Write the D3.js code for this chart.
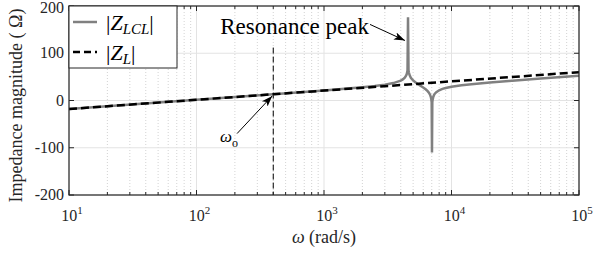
<!DOCTYPE html>
<html>
<head>
<meta charset="utf-8">
<script src="https://cdn.jsdelivr.net/npm/d3@7"></script>
<style>
  body { margin: 0; background: #fff; }
  svg { display: block; }
</style>
</head>
<body>
<svg id="chart" width="611" height="253"></svg>
<script>
// |Z_L| (dB-like, read at each decade)
var wL = [10, 100, 1000, 10000, 100000]
var magL = [-18, 1.5, 21, 40.5, 60]

// |Z_LCL| (dense around peak and notch)
var wLCL = [10, 100, 400, 1000, 2000, 2500, 3000, 3500, 4000, 4150, 4300, 4400, 4450, 4490, 4520, 4560,
  4600, 4630, 4700, 4800, 5000, 5200, 5500, 6000, 6300, 6500, 6650, 6800, 6900, 6950, 6990, 7030,
  7070, 7100, 7200, 7300, 7400, 7600, 8000, 8500, 9000, 10000, 12000, 15000, 20000, 30000, 50000, 100000]
var magLCL = [-18, 1.5, 13.3, 21.3, 28.0, 30.7, 33.5, 36.9, 42.1, 44.6, 48.4, 52.5, 55.6, 59.5, 64.3, 176,
  64.1, 59.2, 53.1, 48.2, 42.4, 38.5, 34.1, 27.6, 23.3, 19.8, 16.4, 11.7, 6.4, 2.1, -4.1, -110,
  -4.2, 0.6, 8.0, 11.8, 14.4, 17.7, 21.7, 24.5, 26.5, 29.1, 32.2, 35.1, 38.2, 42.0, 46.5, 52.5]

var yTicks = [-200, -100, 0, 100, 200]
var xTicks = [10, 100, 1000, 10000, 100000]
var wo = 400

var svg = d3.select("#chart")
  .attr("font-family", "'Liberation Serif', 'Times New Roman', 'DejaVu Serif', serif")
var pL = 69, pR = 579, pT = 6, pB = 195
var ink = "#262626"

var x = d3.scaleLog().domain([10, 1e5]).range([pL, pR])
var y = d3.scaleLinear().domain([-200, 200]).range([pB, pT])

// minor ticks (2..9 per decade)
var minor = []
for (var d = 10; d < 1e5; d *= 10) {
  for (var k = 2; k <= 9; k++) minor.push(d * k)
}

// grid
svg.append("g").selectAll("line")
  .data(minor)
  .enter().append("line")
    .attr("x1", function(d){ return x(d) }).attr("x2", function(d){ return x(d) })
    .attr("y1", pT).attr("y2", pB)
    .attr("stroke", "#c8c8c8").attr("stroke-width", 0.8)
    .attr("stroke-dasharray", "1,2")
svg.append("g").selectAll("line")
  .data(xTicks)
  .enter().append("line")
    .attr("x1", function(d){ return x(d) }).attr("x2", function(d){ return x(d) })
    .attr("y1", pT).attr("y2", pB)
    .attr("stroke", "#e3e3e3").attr("stroke-width", 1)
svg.append("g").selectAll("line")
  .data(yTicks)
  .enter().append("line")
    .attr("x1", pL).attr("x2", pR)
    .attr("y1", function(d){ return y(d) }).attr("y2", function(d){ return y(d) })
    .attr("stroke", "#e3e3e3").attr("stroke-width", 1)

// clip
svg.append("clipPath").attr("id", "clip")
  .append("rect").attr("x", pL).attr("y", pT).attr("width", pR - pL).attr("height", pB - pT)

var line = d3.line()
  .x(function(d){ return x(d[0]) })
  .y(function(d){ return y(d[1]) })

var plot = svg.append("g").attr("clip-path", "url(#clip)")

// ω_o marker
plot.append("line")
  .attr("x1", x(wo)).attr("x2", x(wo))
  .attr("y1", y(112)).attr("y2", y(-200))
  .attr("stroke", "#000").attr("stroke-width", 1)
  .attr("stroke-dasharray", "6,3")

plot.append("path")
  .datum(wLCL.map(function(w, i){ return [w, magLCL[i]] }))
  .attr("d", line)
  .attr("fill", "none").attr("stroke", "#808080").attr("stroke-width", 2.5)

plot.append("path")
  .datum(wL.map(function(w, i){ return [w, magL[i]] }))
  .attr("d", line)
  .attr("fill", "none").attr("stroke", "#000").attr("stroke-width", 2.5)
  .attr("stroke-dasharray", "8,4")

// ticks inside the box
var tk = svg.append("g").attr("stroke", ink).attr("stroke-width", 1)
minor.forEach(function(d){
  tk.append("line").attr("x1", x(d)).attr("x2", x(d)).attr("y1", pB).attr("y2", pB - 3)
  tk.append("line").attr("x1", x(d)).attr("x2", x(d)).attr("y1", pT).attr("y2", pT + 3)
})
xTicks.forEach(function(d){
  tk.append("line").attr("x1", x(d)).attr("x2", x(d)).attr("y1", pB).attr("y2", pB - 5)
  tk.append("line").attr("x1", x(d)).attr("x2", x(d)).attr("y1", pT).attr("y2", pT + 5)
})
yTicks.forEach(function(d){
  tk.append("line").attr("x1", pL).attr("x2", pL + 5).attr("y1", y(d)).attr("y2", y(d))
  tk.append("line").attr("x1", pR).attr("x2", pR - 5).attr("y1", y(d)).attr("y2", y(d))
})

// box
svg.append("rect")
  .attr("x", pL).attr("y", pT).attr("width", pR - pL).attr("height", pB - pT)
  .attr("fill", "none").attr("stroke", ink).attr("stroke-width", 1.2)

// tick labels
svg.selectAll("ylab")
  .data(yTicks)
  .enter().append("text")
    .attr("x", pL - 5)
    .attr("y", function(d){ return d == 200 ? y(d) + 7 : y(d) + 5 })
    .attr("text-anchor", "end")
    .attr("fill", ink)
    .style("font-size", "16px")
    .text(function(d){ return d < 0 ? "-" + Math.abs(d) : d })

var xl = svg.selectAll("xlab")
  .data(xTicks)
  .enter().append("text")
    .attr("x", function(d){ return x(d) + 3 })
    .attr("y", 221)
    .attr("text-anchor", "middle")
    .attr("fill", ink)
    .style("font-size", "16px")
xl.append("tspan").text("10")
xl.append("tspan").attr("dy", -7).style("font-size", "11px")
  .text(function(d){ return Math.round(Math.log10(d)) })

// axis titles
var xt = svg.append("text")
  .attr("x", x(1000)).attr("y", 243)
  .attr("text-anchor", "middle")
  .attr("fill", ink)
  .style("font-size", "18px")
xt.append("tspan").style("font-style", "italic").text("ω")
xt.append("tspan").text(" (rad/s)")

svg.append("text")
  .attr("transform", "translate(22," + ((pT + pB) / 2 + 5) + ") rotate(-90)")
  .attr("text-anchor", "middle")
  .attr("fill", ink)
  .style("font-size", "18px")
  .text("Impedance magnitude ( Ω)")

// arrows
svg.append("defs").append("marker")
  .attr("id", "head").attr("viewBox", "0 0 10 10")
  .attr("refX", 10).attr("refY", 5)
  .attr("markerWidth", 11).attr("markerHeight", 11)
  .attr("markerUnits", "userSpaceOnUse")
  .attr("orient", "auto")
  .append("path").attr("d", "M0,1.5 L10,5 L0,8.5 L2.5,5 Z").attr("fill", "#000")

svg.append("line")
  .attr("x1", x(208)).attr("y1", y(-70))
  .attr("x2", x(wo) - 1).attr("y2", y(14) + 2)
  .attr("stroke", "#000").attr("stroke-width", 1)
  .attr("marker-end", "url(#head)")

svg.append("line")
  .attr("x1", x(2296)).attr("y1", y(161))
  .attr("x2", x(4315)).attr("y2", y(127))
  .attr("stroke", "#000").attr("stroke-width", 1)
  .attr("marker-end", "url(#head)")

var wl = svg.append("text").attr("x", 220).attr("y", 142).style("font-size", "17px").attr("fill", "#000")
wl.append("tspan").style("font-style", "italic").text("ω")
wl.append("tspan").attr("dy", 5).style("font-size", "12px").text("o")

svg.append("text")
  .attr("x", 369).attr("y", 34)
  .attr("text-anchor", "end")
  .attr("fill", "#000")
  .style("font-size", "23px")
  .text("Resonance peak")

// legend
var lg = svg.append("g")
lg.append("rect")
  .attr("x", pL).attr("y", pT).attr("width", 108).attr("height", 62)
  .attr("fill", "#fff").attr("stroke", ink).attr("stroke-width", 1)

var keys = ["LCL", "L"]
var size = 30
lg.selectAll("mylines")
  .data(keys)
  .enter().append("line")
    .attr("x1", 73).attr("x2", 97)
    .attr("y1", function(d, i){ return 22 + i * size })
    .attr("y2", function(d, i){ return 22 + i * size })
    .attr("stroke", function(d){ return d == "LCL" ? "#808080" : "#000" })
    .attr("stroke-width", 2.5)
    .attr("stroke-dasharray", function(d){ return d == "LCL" ? null : "7,4" })

var lt = lg.selectAll("mylabels")
  .data(keys)
  .enter().append("text")
    .attr("x", 106)
    .attr("y", function(d, i){ return 30 + i * size })
    .attr("fill", "#000")
    .style("font-size", "22px")
lt.append("tspan").text("|")
lt.append("tspan").style("font-style", "italic").text("Z")
lt.append("tspan").attr("dy", 4).style("font-size", "15px").style("font-style", "italic")
  .text(function(d){ return d })
lt.append("tspan").attr("dy", -4).text("|")
</script>
</body>
</html>
